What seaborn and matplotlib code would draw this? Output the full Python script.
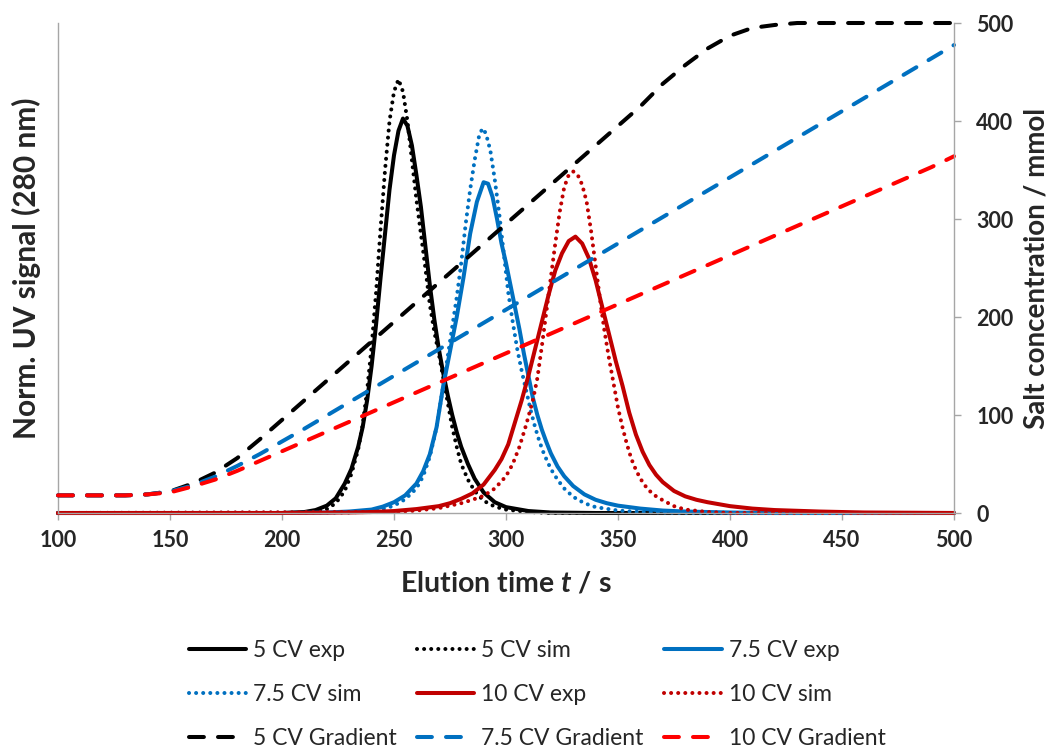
import numpy as np
import matplotlib
matplotlib.use("Agg")
import matplotlib.pyplot as plt
from matplotlib.lines import Line2D
import seaborn as sns

# ---------------- data ----------------
# UV traces (normalised signal) -- elution time in s
t_5_exp = [100, 200, 210, 215, 220, 224, 228, 231, 234, 236, 238, 240, 242, 244, 246, 248, 250, 252, 254,
           256, 258, 260, 262, 264, 266, 268, 270, 272, 274, 276, 278, 280, 283, 286, 290, 295, 300, 310, 320, 340, 500]
uv_5_exp = [0, 0, 0.002, 0.006, 0.015, 0.03, 0.06, 0.09, 0.135, 0.175, 0.23, 0.30, 0.385, 0.48, 0.57, 0.66, 0.73, 0.78, 0.805,
            0.79, 0.75, 0.69, 0.625, 0.545, 0.465, 0.395, 0.335, 0.285, 0.24, 0.20, 0.165, 0.135, 0.10, 0.07, 0.042, 0.022, 0.012, 0.004, 0.001, 0, 0]

t_5_sim = [100, 210, 215, 220, 224, 228, 231, 234, 236, 238, 240, 242, 244, 246, 248, 250, 252, 254, 256, 258,
           260, 262, 264, 266, 268, 270, 272, 274, 276, 278, 280, 283, 286, 290, 295, 300, 310, 320, 500]
uv_5_sim = [0, 0, 0.002, 0.008, 0.02, 0.045, 0.08, 0.13, 0.18, 0.25, 0.34, 0.45, 0.58, 0.70, 0.80, 0.86, 0.885, 0.86, 0.80, 0.72,
            0.64, 0.57, 0.50, 0.425, 0.37, 0.325, 0.275, 0.225, 0.175, 0.135, 0.10, 0.068, 0.045, 0.025, 0.013, 0.007, 0.002, 0, 0]

t_75_exp = [100, 200, 220, 230, 240, 245, 250, 255, 260, 263, 266, 269, 272, 275, 278, 281, 284, 287, 290, 292,
            294, 296, 298, 300, 302, 304, 306, 308, 310, 312, 314, 316, 318, 320, 323, 326, 330, 335, 340, 345,
            350, 360, 370, 380, 400, 420, 500]
uv_75_exp = [0, 0, 0.001, 0.003, 0.007, 0.013, 0.022, 0.036, 0.06, 0.085, 0.12, 0.175, 0.26, 0.33, 0.40, 0.48, 0.57, 0.635, 0.675, 0.672,
             0.645, 0.60, 0.55, 0.51, 0.465, 0.42, 0.375, 0.325, 0.28, 0.235, 0.20, 0.17, 0.145, 0.122, 0.095, 0.075, 0.055, 0.038, 0.027, 0.02,
             0.015, 0.009, 0.005, 0.003, 0.001, 0, 0]

t_75_sim = [100, 230, 240, 245, 250, 255, 260, 263, 266, 269, 272, 275, 278, 280, 282, 284, 286, 288, 289.5, 291,
            293, 295, 297, 299, 301, 303, 305, 307, 309, 311, 313, 315, 317, 320, 323, 326, 330, 335, 340, 350,
            360, 380, 500]
uv_75_sim = [0, 0.001, 0.004, 0.008, 0.015, 0.028, 0.05, 0.075, 0.115, 0.175, 0.26, 0.35, 0.44, 0.51, 0.59, 0.66, 0.72, 0.77, 0.785, 0.775,
             0.74, 0.68, 0.61, 0.53, 0.45, 0.39, 0.335, 0.29, 0.25, 0.21, 0.175, 0.145, 0.12, 0.09, 0.068, 0.05, 0.033, 0.02, 0.012, 0.005,
             0.002, 0, 0]

t_10_exp = [100, 200, 230, 240, 250, 260, 270, 275, 280, 285, 290, 295, 298, 301, 304, 307, 310, 313, 316, 319,
            322, 325, 328, 331, 334, 337, 340, 343, 346, 349, 352, 355, 358, 361, 364, 367, 370, 375, 380, 385,
            390, 400, 410, 420, 440, 460, 500]
uv_10_exp = [0, 0, 0.001, 0.002, 0.004, 0.008, 0.014, 0.02, 0.029, 0.04, 0.058, 0.088, 0.11, 0.14, 0.185, 0.23, 0.28, 0.335, 0.39, 0.445,
             0.495, 0.53, 0.555, 0.564, 0.55, 0.52, 0.475, 0.42, 0.365, 0.31, 0.26, 0.205, 0.16, 0.125, 0.098, 0.078, 0.063, 0.045, 0.034, 0.027,
             0.022, 0.014, 0.009, 0.006, 0.003, 0.001, 0]

t_10_sim = [100, 250, 260, 270, 280, 285, 290, 295, 300, 303, 306, 309, 312, 314, 316, 318, 320, 322, 324, 326,
            328, 330, 332, 334, 336, 338, 340, 342, 344, 346, 348, 350, 352, 354, 356, 358, 360, 363, 366, 370,
            375, 380, 390, 400, 500]
uv_10_sim = [0, 0.002, 0.005, 0.01, 0.02, 0.027, 0.035, 0.05, 0.075, 0.10, 0.135, 0.18, 0.23, 0.275, 0.34, 0.41, 0.48, 0.55, 0.615, 0.665,
             0.69, 0.697, 0.69, 0.67, 0.635, 0.575, 0.505, 0.435, 0.37, 0.315, 0.265, 0.215, 0.175, 0.14, 0.11, 0.088, 0.07, 0.05, 0.037, 0.026,
             0.014, 0.007, 0.002, 0, 0]

# salt gradients (mmol), sampled every 10 s
t_grad = list(range(100, 501, 10))
salt_5 = [18, 18, 18, 18, 19, 22, 30, 41, 56, 75, 95, 115, 135, 155, 175, 195, 215, 235, 255, 275, 295,
          315, 335, 355, 375, 395, 415, 438, 457, 474, 487, 495, 498, 500, 500, 500, 500, 500, 500, 500, 500]
salt_75 = [18, 18, 18, 18, 19, 22, 28, 37, 48, 60, 73, 86, 99.5, 113, 126.5, 140, 153.5, 167, 180.5, 194, 207.5,
           221, 234.5, 248, 261.5, 275, 288.5, 302, 315.5, 329, 342.5, 356, 369.5, 383, 396.5, 410, 423.5, 437, 450.5, 464, 477.5]
salt_10 = [18, 18, 18, 18, 19, 21, 27, 34, 43, 53, 63, 73, 83, 93, 103, 113, 123, 133, 143, 153, 163,
           173, 183, 193, 203, 213, 223, 233, 243, 253, 263, 273, 283, 293, 303, 313, 323, 333, 343, 353, 364]

labels_uv = ["5 CV exp", "5 CV sim", "7.5 CV exp", "7.5 CV sim", "10 CV exp", "10 CV sim"]
labels_grad = ["5 CV Gradient", "7.5 CV Gradient", "10 CV Gradient"]
x_ticks = [100, 150, 200, 250, 300, 350, 400, 450, 500]
salt_ticks = [0, 100, 200, 300, 400, 500]

# ---------------- styling ----------------
sns.set_theme(style="white")
plt.rcParams["font.family"] = ["Lato", "DejaVu Sans"]
plt.rcParams["mathtext.fontset"] = "custom"
plt.rcParams["mathtext.it"] = "Lato:bold:italic"
plt.rcParams["mathtext.rm"] = "Lato:bold"

BLACK = "#000000"
BLUE = "#0070C0"
DRED = "#C00000"
RED = "#FF0000"
SPINE = "#A6A6A6"

LW = 2.9
SOLID = "-"
DOT = (0, (0.01, 1.75))
DASH = (0, (3.7, 3.5))

fig = plt.figure(figsize=(10.53, 7.48), dpi=100)
ax = fig.add_axes([58 / 1053, 1 - 513 / 748, 896 / 1053, 490 / 748])
ax2 = ax.twinx()

uv_series = [
    (t_5_exp, uv_5_exp, BLACK, SOLID),
    (t_5_sim, uv_5_sim, BLACK, DOT),
    (t_75_exp, uv_75_exp, BLUE, SOLID),
    (t_75_sim, uv_75_sim, BLUE, DOT),
    (t_10_exp, uv_10_exp, DRED, SOLID),
    (t_10_sim, uv_10_sim, DRED, DOT),
]
grad_series = [
    (salt_5, BLACK),
    (salt_75, BLUE),
    (salt_10, RED),
]

handles = {}
for (tt, yy, col, ls), lab in zip(uv_series, labels_uv):
    sns.lineplot(x=tt, y=yy, ax=ax, color=col, linewidth=LW, linestyle=ls,
                 dash_capstyle="round", solid_capstyle="round", clip_on=False)
    handles[lab] = Line2D([], [], color=col, linewidth=LW, linestyle=ls, dash_capstyle="round")

for (yy, col), lab in zip(grad_series, labels_grad):
    sns.lineplot(x=t_grad, y=yy, ax=ax2, color=col, linewidth=LW, linestyle=DASH,
                 dash_capstyle="round", clip_on=False)
    handles[lab] = Line2D([], [], color=col, linewidth=LW, linestyle=DASH, dash_capstyle="round")

# axes limits / ticks
ax.set_xlim(100, 500)
ax.set_ylim(0, 1)
ax2.set_ylim(0, 500)
ax.set_xticks(x_ticks)
ax.set_yticks([])
ax2.set_yticks(salt_ticks)

for a in (ax, ax2):
    a.spines["top"].set_visible(False)
    for side in ("left", "right", "bottom"):
        a.spines[side].set_color(SPINE)
        a.spines[side].set_linewidth(1.0)
ax.spines["right"].set_visible(False)
ax2.spines["left"].set_visible(False)
ax2.spines["bottom"].set_visible(False)

ax.tick_params(axis="x", which="major", bottom=True, length=5, width=1, color=SPINE,
               pad=7, labelsize=15.5)
ax2.tick_params(axis="y", which="major", right=True, length=5, width=1, color=SPINE,
                pad=11, labelsize=15.5)
for lab in ax.get_xticklabels() + ax2.get_yticklabels():
    lab.set_fontweight("bold")

ax.set_xlabel("Elution time $t$ / s", fontsize=20.5, fontweight="bold")
ax.xaxis.set_label_coords(0.5, -0.118)
ax.set_ylabel("Norm. UV signal (280 nm)", fontsize=21.5, fontweight="bold")
ax.yaxis.set_label_coords(-0.019, 0.5)
ax2.set_ylabel("Salt concentration / mmol", fontsize=20, fontweight="bold", rotation=90)
ax2.yaxis.set_label_coords(1.0775, 0.5)

# legend: three entries per row
order_rows = [["5 CV exp", "5 CV sim", "7.5 CV exp"],
              ["7.5 CV sim", "10 CV exp", "10 CV sim"],
              ["5 CV Gradient", "7.5 CV Gradient", "10 CV Gradient"]]
col_major = [order_rows[r][c] for c in range(3) for r in range(3)]
fig.legend([handles[k] for k in col_major], col_major, ncol=3, loc="center",
           bbox_to_anchor=(0.51, 0.0715), frameon=False, fontsize=16.5,
           handlelength=2.5, handletextpad=0.3, columnspacing=0.9, labelspacing=1.0)

fig.savefig("out.png", dpi=100)
